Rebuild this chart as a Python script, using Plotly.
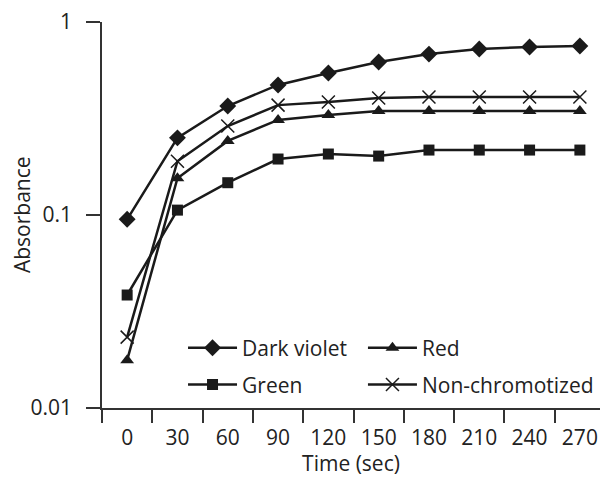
import plotly.graph_objects as go

time_labels = ["0", "30", "60", "90", "120", "150", "180", "210", "240", "270"]
dark_violet = [0.095, 0.251, 0.367, 0.472, 0.544, 0.621, 0.682, 0.725, 0.742, 0.751]
red = [0.0177, 0.155, 0.242, 0.311, 0.330, 0.346, 0.346, 0.346, 0.346, 0.346]
green = [0.0385, 0.106, 0.147, 0.195, 0.207, 0.202, 0.217, 0.217, 0.217, 0.217]
non_chromotized = [0.0233, 0.190, 0.289, 0.371, 0.385, 0.404, 0.409, 0.409, 0.409, 0.409]
y_tick_vals = [0.01, 0.1, 1]
y_tick_text = ["0.01", "0.1", "1"]

INK = "#1a1a1a"
FONT = "Open Sans"
FS = 21

fig = go.Figure()

def add(name, ys, symbol, size, legend, mline=0):
    fig.add_trace(go.Scatter(
        x=time_labels, y=ys, name=name, mode="lines+markers",
        line=dict(color=INK, width=2.5),
        marker=dict(symbol=symbol, size=size, color=INK,
                    line=dict(color=INK, width=mline)),
        legend=legend, showlegend=True,
    ))

add("Dark violet", dark_violet, "diamond", 13, "legend")
add("Red", red, "triangle-up", 12, "legend2")
add("Green", green, "square", 11, "legend3")
add("Non-chromotized", non_chromotized, "x-thin-open", 13, "legend4", mline=1.5)

leg = dict(xanchor="left", yanchor="middle", font=dict(size=FS),
           bgcolor="rgba(0,0,0,0)", itemwidth=49)

fig.update_layout(
    width=600, height=477,
    margin=dict(l=102, r=0, t=22, b=69),
    paper_bgcolor="white", plot_bgcolor="white",
    font=dict(family=FONT, size=FS, color="#222"),
    showlegend=True,
    legend=dict(leg, x=0.1627, y=0.155),
    legend2=dict(leg, x=0.524, y=0.155),
    legend3=dict(leg, x=0.1627, y=0.06),
    legend4=dict(leg, x=0.524, y=0.06),
    annotations=[dict(text="Absorbance", xref="paper", yref="paper",
                      x=-0.1606, y=0.5, xanchor="center", yanchor="middle",
                      textangle=-90, showarrow=False, font=dict(size=FS))],
)

fig.update_xaxes(
    type="category", range=[-0.5, 9.4],
    tickson="boundaries", ticks="outside", ticklen=13, tickwidth=1.5, tickcolor="#333",
    showline=True, linecolor="#333", linewidth=1.5, showgrid=False, zeroline=False,
    title=dict(text="Time (sec)", standoff=7, font=dict(size=FS)),
    tickfont=dict(size=FS), ticklabelstandoff=10,
)
fig.update_yaxes(
    type="log", range=[-2, 0],
    tickvals=y_tick_vals, ticktext=y_tick_text,
    ticks="outside", ticklen=14, tickwidth=1.5, tickcolor="#333",
    showline=True, linecolor="#333", linewidth=1.5, showgrid=False, zeroline=False,
    tickfont=dict(size=FS), ticklabelstandoff=10,
)

fig.write_html("out.html", config={"displayModeBar": False},
               post_script="document.body.style.margin='0';")
